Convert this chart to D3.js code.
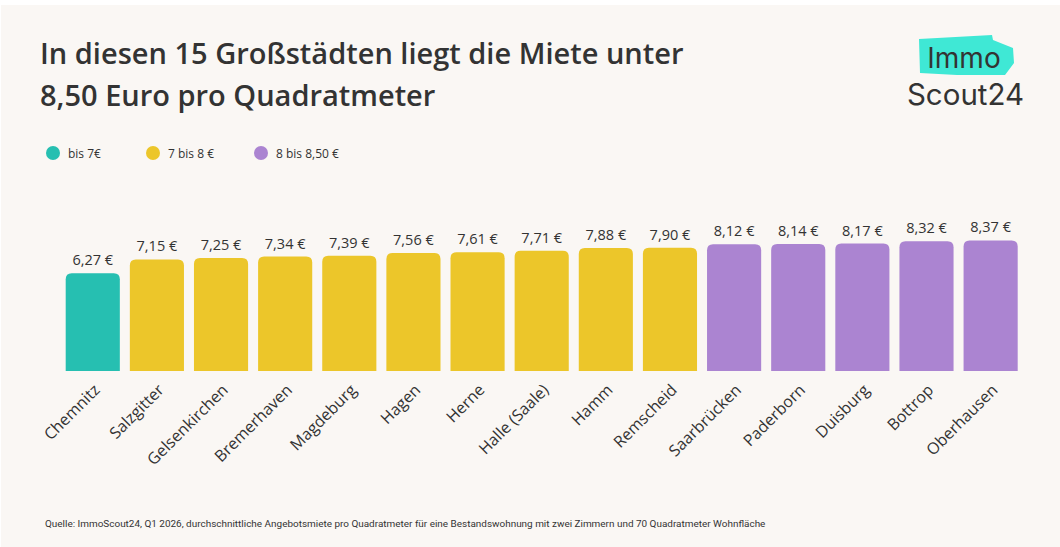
<!DOCTYPE html>
<html>
<head>
<meta charset="utf-8">
<script src="https://cdn.jsdelivr.net/npm/d3@7"></script>
<style>
  body { margin: 0; background: #ffffff; }
  svg { display: block; }
</style>
</head>
<body>
<div class="chart"></div>
<script>
// Chart data
const cities = ['Chemnitz', 'Salzgitter', 'Gelsenkirchen', 'Bremerhaven', 'Magdeburg', 'Hagen', 'Herne',
    'Halle (Saale)', 'Hamm', 'Remscheid', 'Saarbrücken', 'Paderborn', 'Duisburg', 'Bottrop', 'Oberhausen'];
const rents = [6.27, 7.15, 7.25, 7.34, 7.39, 7.56, 7.61, 7.71, 7.88, 7.90, 8.12, 8.14, 8.17, 8.32, 8.37];
const groups = ['bis 7€', '7 bis 8 €', '8 bis 8,50 €'];
const groupColors = ['#26bfb1', '#ecc62a', '#ab84d1'];

const titleLines = ['In diesen 15 Großstädten liegt die Miete unter', '8,50 Euro pro Quadratmeter'];
const sourceText = 'Quelle: ImmoScout24, Q1 2026, durchschnittliche Angebotsmiete pro Quadratmeter für eine Bestandswohnung mit zwei Zimmern und 70 Quadratmeter Wohnfläche';

const width = 1060, height = 547;
const textColor = '#333333';

function groupOf(v) {
    if (v < 7) return 0;
    if (v < 8) return 1;
    return 2;
}

const fmt = v => d3.format('.2f')(v).replace('.', ',') + ' €';

const svg = d3.select('.chart').append('svg')
    .attr('width', width)
    .attr('height', height);

svg.append('rect')
    .attr('x', 1)
    .attr('y', 5)
    .attr('width', width - 1)
    .attr('height', height - 5)
    .attr('fill', '#faf7f4');

// title
svg.append('g')
    .selectAll('text')
    .data(titleLines)
    .join('text')
    .attr('x', 40)
    .attr('y', (d, i) => 64 + i * 42)
    .attr('font-family', 'Open Sans')
    .attr('font-weight', 600)
    .attr('font-size', 29)
    .attr('fill', textColor)
    .text(d => d);

// logo
const logo = svg.append('g');
logo.append('path')
    .attr('d', 'M919,39 L992,35 L993,40 L1013,48 L1014,63 L1005,75 L957,75 L920,73 Z')
    .attr('fill', '#3fe8d5');
logo.append('text')
    .attr('x', 964)
    .attr('y', 68)
    .attr('text-anchor', 'middle')
    .attr('font-family', 'Inter')
    .attr('font-size', 28)
    .attr('fill', textColor)
    .text('Immo');
logo.append('text')
    .attr('x', 965.5)
    .attr('y', 105)
    .attr('text-anchor', 'middle')
    .attr('font-family', 'Inter')
    .attr('font-size', 29.5)
    .attr('fill', textColor)
    .text('Scout24');

// legend
const legendX = [53, 153, 261];
const legend = svg.append('g')
    .selectAll('g')
    .data(groups)
    .join('g')
    .attr('transform', (d, i) => `translate(${legendX[i]}, 153)`);
legend.append('circle')
    .attr('r', 7)
    .attr('fill', (d, i) => groupColors[i]);
legend.append('text')
    .attr('x', 15)
    .attr('y', 4.5)
    .attr('font-family', 'Open Sans')
    .attr('font-size', 12)
    .attr('fill', textColor)
    .text(d => d);

// scales
const x = d3.scaleBand()
    .domain(cities)
    .range([65.7, 1017.7])
    .paddingInner(0.156)
    .paddingOuter(0);

const y = d3.scaleLinear()
    .domain([0, 8.4])
    .range([371, 240]);

// bar with rounded top corners
function barPath(x0, w, yTop, yBase, r) {
    return `M${x0},${yBase} L${x0},${yTop + r} Q${x0},${yTop} ${x0 + r},${yTop}`
        + ` L${x0 + w - r},${yTop} Q${x0 + w},${yTop} ${x0 + w},${yTop + r}`
        + ` L${x0 + w},${yBase} Z`;
}

const data = cities.map((c, i) => ({ city: c, value: rents[i] }));

const plot = svg.append('g');

plot.selectAll('path.bar')
    .data(data)
    .join('path')
    .attr('class', 'bar')
    .attr('d', d => barPath(x(d.city), x.bandwidth(), y(d.value), y(0), 6))
    .attr('fill', d => groupColors[groupOf(d.value)]);

plot.selectAll('text.value')
    .data(data)
    .join('text')
    .attr('class', 'value')
    .attr('x', d => x(d.city) + x.bandwidth() / 2)
    .attr('y', d => y(d.value) - 8)
    .attr('text-anchor', 'middle')
    .attr('font-family', 'Open Sans')
    .attr('font-size', 14.5)
    .attr('fill', textColor)
    .text(d => fmt(d.value));

// city labels, rotated
plot.selectAll('text.city')
    .data(data)
    .join('text')
    .attr('class', 'city')
    .attr('transform', d => `translate(${x(d.city) + x.bandwidth() / 2 + 8}, 391) rotate(-45)`)
    .attr('text-anchor', 'end')
    .attr('font-family', 'Open Sans')
    .attr('font-size', 16)
    .attr('fill', textColor)
    .text(d => d.city);

// source
svg.append('text')
    .attr('x', 45)
    .attr('y', 527)
    .attr('font-family', 'Roboto')
    .attr('font-size', 9.95)
    .attr('fill', textColor)
    .text(sourceText);
</script>
</body>
</html>
